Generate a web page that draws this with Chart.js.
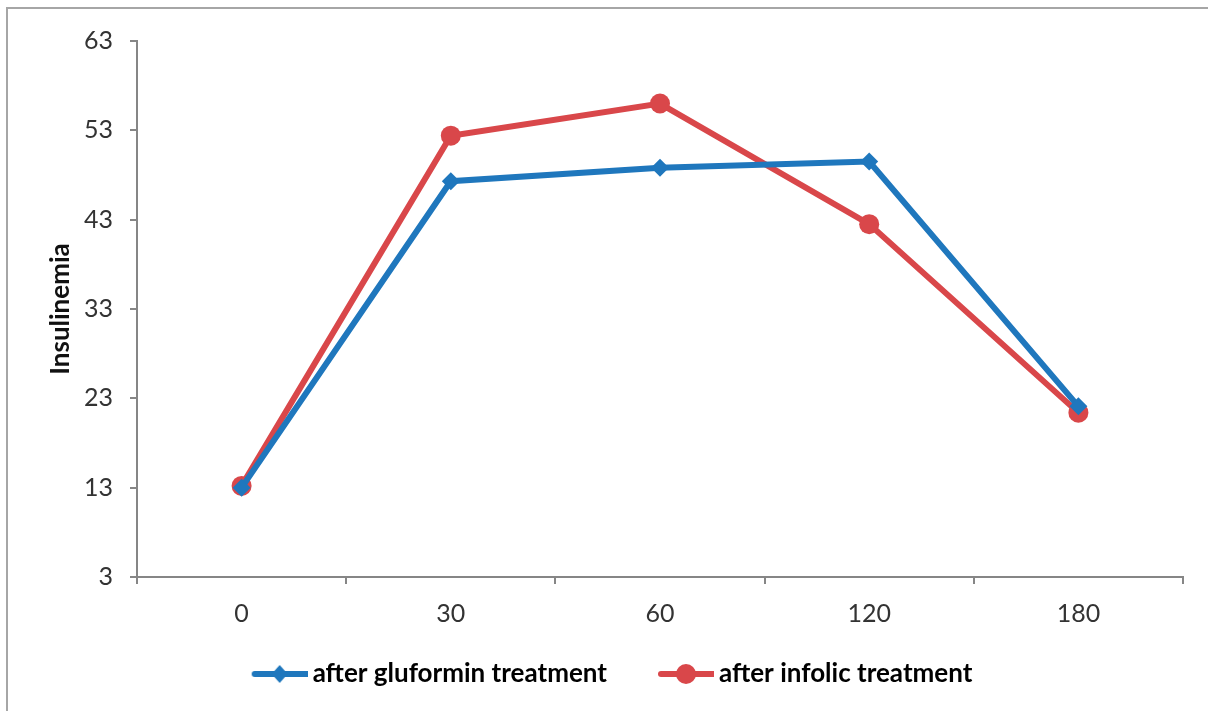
<!DOCTYPE html>
<html>
<head>
<meta charset="utf-8">
<script src="https://cdn.jsdelivr.net/npm/chart.js@4.4.1/dist/chart.umd.min.js"></script>
<style>
  html, body { margin: 0; padding: 0; background: #fff; }
  #wrap { position: relative; width: 1208px; height: 711px; overflow: hidden; }
  #frame { position: absolute; left: 6px; top: 7px; width: 1400px; height: 900px;
           border-left: 2px solid #a6a6a6; border-top: 2px solid #a6a6a6; }
  canvas { position: absolute; left: 0; top: 0; }
</style>
</head>
<body>
<div id="wrap">
  <div id="frame"></div>
  <canvas id="c" width="1208" height="711"></canvas>
</div>
<script>
const categories = ['0', '30', '60', '120', '180'];
const gluforminValues = [13.0, 47.3, 48.8, 49.5, 22.1];
const infolicValues = [13.2, 52.4, 56.0, 42.5, 21.4];
const seriesNames = ['after gluformin treatment', 'after infolic treatment'];
const yTicks = { min: 3, max: 63, step: 10 };
const yTitle = 'Insulinemia';

const BLUE = '#1f77bd';
const RED = '#d9474a';
const FONT = 'Lato, "Open Sans", sans-serif';

// legend icon: transparent lead-in (item spacing) + line with marker
const ICON_LEAD = 49, ICON_W = 56;
function legendIcon(color, shape) {
  const cv = document.createElement('canvas');
  cv.width = ICON_LEAD + ICON_W; cv.height = 22;
  const g = cv.getContext('2d');
  const x0 = ICON_LEAD;
  g.strokeStyle = color; g.lineWidth = 6; g.lineCap = 'round';
  g.beginPath(); g.moveTo(x0 + 3, 11); g.lineTo(x0 + ICON_W - 1, 11); g.stroke();
  g.fillStyle = color;
  g.beginPath();
  const cx = x0 + ICON_W / 2;
  if (shape === 'diamond') {
    g.moveTo(cx, 2); g.lineTo(cx + 8, 11); g.lineTo(cx, 20); g.lineTo(cx - 8, 11); g.closePath();
  } else {
    g.arc(cx, 11, 10, 0, Math.PI * 2);
  }
  g.fill();
  return cv;
}
const icons = [legendIcon(BLUE, 'diamond'), legendIcon(RED, 'circle')];

new Chart(document.getElementById('c'), {
  type: 'line',
  data: {
    labels: categories,
    datasets: [
      {
        label: seriesNames[0],
        data: gluforminValues,
        borderColor: BLUE,
        backgroundColor: BLUE,
        borderWidth: 6,
        pointStyle: 'rectRot',
        pointRadius: 9,
        pointBorderWidth: 0,
        tension: 0
      },
      {
        label: seriesNames[1],
        data: infolicValues,
        borderColor: RED,
        backgroundColor: RED,
        borderWidth: 6,
        pointStyle: 'circle',
        pointRadius: 10,
        pointBorderWidth: 0,
        tension: 0
      }
    ]
  },
  options: {
    responsive: false,
    animation: false,
    devicePixelRatio: 1,
    layout: { padding: { left: 0, top: 41, right: 25, bottom: 14 } },
    plugins: {
      tooltip: { enabled: false },
      legend: {
        position: 'bottom',
        labels: {
          usePointStyle: true,
          pointStyleWidth: ICON_LEAD + ICON_W - 16,
          padding: 10,
          color: '#111',
          font: { family: FONT, size: 26, weight: 'bold' },
          generateLabels: (chart) => chart.data.datasets.map((ds, i) => ({
            text: ds.label,
            fillStyle: ds.borderColor,
            strokeStyle: ds.borderColor,
            pointStyle: icons[i],
            datasetIndex: i,
            hidden: false
          }))
        }
      }
    },
    scales: {
      x: {
        offset: true,
        grid: { offset: true, drawOnChartArea: false, tickLength: 7, color: '#868686', lineWidth: 2 },
        border: { color: '#868686', width: 2 },
        ticks: { color: '#333', font: { family: FONT, size: 25 }, padding: 15 },
        afterFit: (s) => { s.height = 74; }
      },
      y: {
        min: yTicks.min,
        max: yTicks.max,
        grid: { drawOnChartArea: false, tickLength: 7, color: '#868686', lineWidth: 2 },
        border: { color: '#868686', width: 2 },
        ticks: { stepSize: yTicks.step, color: '#333', font: { family: FONT, size: 25 }, padding: 17 },
        title: { display: true, text: yTitle, color: '#111', font: { family: FONT, size: 26, weight: 'bold' }, padding: { top: 45, bottom: 10 } },
        afterFit: (s) => { s.width = 137; }
      }
    }
  }
});
</script>
</body>
</html>
